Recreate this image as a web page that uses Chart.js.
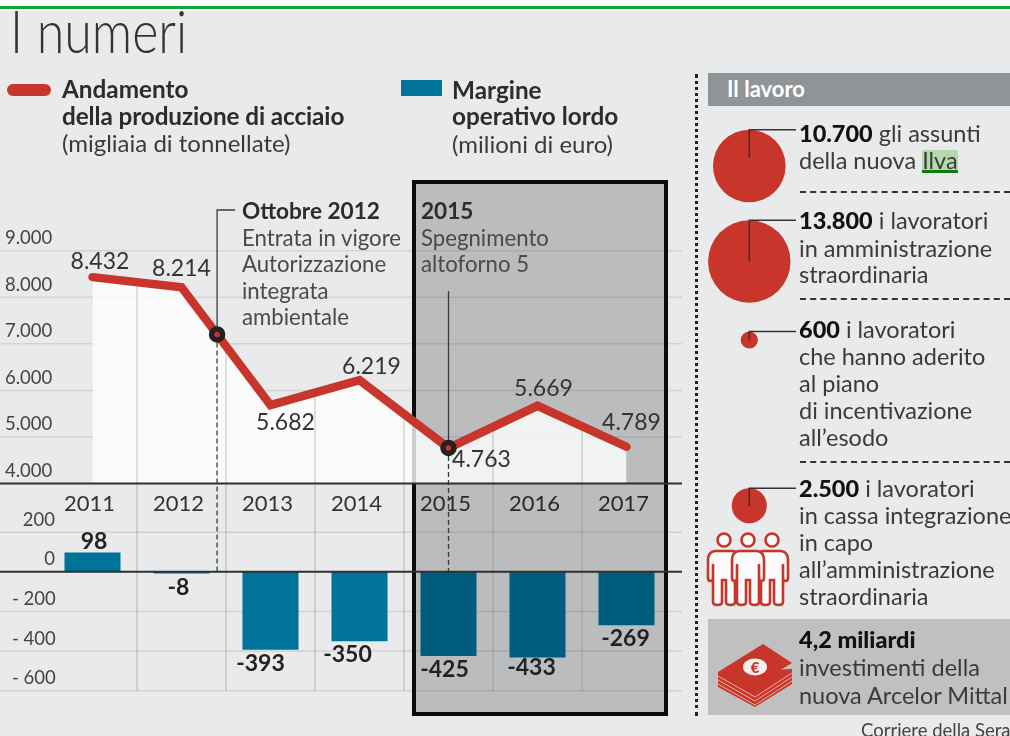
<!DOCTYPE html>
<html lang="it">
<head>
<meta charset="utf-8">
<title>I numeri</title>
<script src="https://cdn.jsdelivr.net/npm/chart.js@4/dist/chart.umd.min.js"></script>
<style>
  html, body { margin: 0; padding: 0; }
  body { width: 1010px; height: 736px; overflow: hidden; position: relative; background: #e9eaec;
         font-family: Lato, sans-serif; color: #3a3a3a; }
  canvas { position: absolute; left: 0; top: 0; }
  .t { position: absolute; white-space: nowrap; line-height: 28px; font-size: 23.5px; }
  .n { font-size: 22.2px; color: #4a4a4a; }
  .b { font-weight: 700; color: #2c2c2c; }
  .l { font-size: 24.3px; }
  .p { font-size: 24px; }
  .x { font-weight: 900; color: #111; }
  .strip { position: absolute; left: 0; top: 0; width: 1010px; height: 11px; background: #fff; }
  .green { position: absolute; left: 0; top: 6px; width: 1010px; height: 3px; background: #10a53a; }
  .title { left: 10px; top: -4px; font-size: 59px; line-height: 70px; font-weight: 300; transform: scaleX(.85); transform-origin: left; color: #333; }
  .dots { position: absolute; left: 695px; top: 74px; height: 642px; border-left: 3px dotted #222; }
  .head { position: absolute; left: 708px; top: 73px; width: 302px; height: 33px; background: #8f9497; }
  .foot { position: absolute; left: 708px; top: 619px; width: 302px; height: 96px; background: #c0c0c0; }
  .dash { position: absolute; left: 800px; width: 210px; border-top: 2px dashed #333; }
  .ilva { background: #b5d9ae; border-bottom: 3px solid #0a7d0a; line-height: 20px; display: inline-block; }
</style>
</head>
<body>
<div class="strip"></div><div class="green"></div>
<canvas id="chart" width="1010" height="736"></canvas>
<canvas id="workersChart" width="1010" height="736"></canvas>

<div class="t title">I numeri</div>
<svg style="position:absolute;left:0;top:78px" width="460" height="24">
  <rect x="7" y="6" width="44" height="12" rx="6" fill="#c8352a"/>
  <rect x="401" y="2" width="41" height="16" fill="#00739b"/>
</svg>
<div class="t b l" style="left:62px;top:75px">Andamento</div>
<div class="t b l" style="left:62px;top:102px;letter-spacing:-.1px">della produzione di acciaio</div>
<div class="t p" style="left:62px;top:129px">(migliaia di tonnellate)</div>
<div class="t b l" style="left:452px;top:76px">Margine</div>
<div class="t b l" style="left:452px;top:102px">operativo lordo</div>
<div class="t p" style="left:452px;top:130px">(milioni di euro)</div>

<div class="t b" style="left:242px;top:197px;font-size:22.6px">Ottobre 2012</div>
<div class="t n" style="left:242px;top:224px">Entrata in vigore</div>
<div class="t n" style="left:242px;top:250px">Autorizzazione</div>
<div class="t n" style="left:242px;top:277px">integrata</div>
<div class="t n" style="left:242px;top:303px">ambientale</div>
<div class="t b" style="left:421px;top:197px;font-size:22.6px">2015</div>
<div class="t n" style="left:421px;top:224px">Spegnimento</div>
<div class="t n" style="left:421px;top:250px">altoforno 5</div>

<div class="dots"></div>
<div class="head"></div>
<div class="t" style="left:727px;top:75px;color:#fff;font-weight:700;font-size:22px">Il lavoro</div>
<div class="t" style="left:799px;top:119px"><span class="x">10.700</span> gli assunti</div>
<div class="t" style="left:799px;top:146px">della nuova <span class="ilva">Ilva</span></div>
<div class="dash" style="top:191px"></div>
<div class="t" style="left:799px;top:206px"><span class="x">13.800</span> i lavoratori</div>
<div class="t" style="left:799px;top:234px">in amministrazione</div>
<div class="t" style="left:799px;top:260px">straordinaria</div>
<div class="dash" style="top:298px"></div>
<div class="t" style="left:799px;top:315px"><span class="x">600</span> i lavoratori</div>
<div class="t" style="left:799px;top:342px">che hanno aderito</div>
<div class="t" style="left:799px;top:369px">al piano</div>
<div class="t" style="left:799px;top:396px">di incentivazione</div>
<div class="t" style="left:799px;top:423px">all’esodo</div>
<div class="dash" style="top:461px"></div>
<div class="t" style="left:799px;top:474px"><span class="x">2.500</span> i lavoratori</div>
<div class="t" style="left:799px;top:501px">in cassa integrazione</div>
<div class="t" style="left:799px;top:528px">in capo</div>
<div class="t" style="left:799px;top:555px">all’amministrazione</div>
<div class="t" style="left:799px;top:582px">straordinaria</div>

<div class="foot"></div>
<div class="t" style="left:799px;top:625px"><span class="x">4,2 miliardi</span></div>
<div class="t" style="left:799px;top:653px">investimenti della</div>
<div class="t" style="left:799px;top:681px">nuova Arcelor Mittal</div>
<div class="t" style="left:861px;top:716px;font-size:18.5px;color:#444">Corriere della Sera</div>

<svg style="position:absolute;left:705px;top:525px" width="95" height="85" stroke="#c8352a" fill="#fbfbfb" stroke-width="2.6">
  <defs>
    <g id="man">
      <circle cx="0" cy="0" r="6.5"/>
      <path d="M-9 11 H9 Q16 12 16 20 V38 Q16 41 13.5 41 Q11 41 11 38 V24 V62 Q11 65 6.5 65 Q2 65 2 62 V40 H-2 V62 Q-2 65 -6.5 65 Q-11 65 -11 62 V24 V38 Q-11 41 -13.5 41 Q-16 41 -16 38 V20 Q-16 12 -9 11 Z"/>
    </g>
  </defs>
  <use href="#man" x="19" y="15"/>
  <use href="#man" x="67" y="15"/>
  <use href="#man" x="43" y="15"/>
</svg>
<svg style="position:absolute;left:710px;top:635px" width="90" height="75">
  <path d="M8 37 L8 52 L45 72 L82 49 L82 34 Z" fill="#c8352a"/>
  <g stroke="#e7b3a6" stroke-width="1" fill="none">
    <path d="M8 41 L45 62 L82 38"/><path d="M8 45 L45 66 L82 42"/><path d="M8 49 L45 70 L82 46"/>
  </g>
  <path d="M53 9 L82 28 L37 55 L8 37 Z" fill="#c8352a"/>
  <ellipse cx="45" cy="32" rx="12" ry="8.5" fill="#f6f1ee"/>
  <text x="45" y="38" font-size="15" font-weight="900" text-anchor="middle" fill="#c8352a">€</text>
</svg>

<script>
const years = ["2011", "2012", "2013", "2014", "2015", "2016", "2017"];
const production = [8432, 8214, 5682, 6219, 4763, 5669, 4789];
const margin = [98, -8, -393, -350, -425, -433, -269];
const productionTicks = [9000, 8000, 7000, 6000, 5000, 4000];
const marginTicks = [200, 0, -200, -400, -600];
const workers = [10700, 13800, 600, 2500];

// scale ranges: the two panels share one chart, stacked on the left
const prodMin = 4000, prodMax = 9000;
const marginMin = -600, marginMax = 446;

// label nudges from the point / bar end, hand placed like in the print
const prodLabelShift = [[7.5, -16], [0, -19], [15, 17], [12, -14], [33, 12], [6, -17], [5, -24]];
const marginLabelShift = [[1.5, -11], [-3, 14], [-10, 14], [-12, 13], [-4, 14], [-6, 10], [-1, 13]];

const red = "#c8352a";
const blue = "#00739b";
const box = { left: 414, top: 182, right: 666, bottom: 714 };
const octoberFraction = 0.4; // distance between the 2012 and 2013 points

function dotted(v) {
  return String(v).replace(/\B(?=(\d{3})+$)/g, ".");
}

// margin ticks are left anchored, figure spaces push the short ones right
function marginTickLabel(v) {
  if (v < 0) return String(v).replace("-", "- ");
  return (v === 0 ? "\u2007\u2007\u2007" : "\u2007") + v;
}

function lineYAt(chart, px) {
  const pts = chart.getDatasetMeta(1).data;
  for (let i = 1; i < pts.length; i++) {
    if (px <= pts[i].x) {
      return pts[i - 1].y + (pts[i].y - pts[i - 1].y) * (px - pts[i - 1].x) / (pts[i].x - pts[i - 1].x);
    }
  }
  return pts[pts.length - 1].y;
}

function hline(ctx, y, color, width) {
  ctx.strokeStyle = color;
  ctx.lineWidth = width;
  ctx.beginPath();
  ctx.moveTo(0, y);
  ctx.lineTo(682, y);
  ctx.stroke();
}

function ring(ctx, x, y) {
  ctx.beginPath();
  ctx.arc(x, y, 5.5, 0, Math.PI * 2);
  ctx.fillStyle = red;
  ctx.fill();
  ctx.strokeStyle = "#222";
  ctx.lineWidth = 5.5;
  ctx.stroke();
}

const printLook = {
  id: "printLook",
  beforeDraw(chart) {
    // opaque paper, the multiply below needs something to darken
    chart.ctx.fillStyle = "#e9eaec";
    chart.ctx.fillRect(0, 11, 1010, 725);
  },
  beforeDatasetsDraw(chart) {
    const ctx = chart.ctx;
    ctx.save();
    productionTicks.forEach(v => hline(ctx, chart.scales.y.getPixelForValue(v), "#d2d4d6", 1.5));
    marginTicks.forEach(v => hline(ctx, chart.scales.y1.getPixelForValue(v), "#cfd1d3", 1.5));
    ctx.restore();
  },
  afterDatasetDraw(chart, args) {
    const ctx = chart.ctx;
    if (args.index === 0) {
      // the 2015 box darkens what is under it, bars included
      ctx.save();
      ctx.globalCompositeOperation = "multiply";
      ctx.fillStyle = "#cdcdcd";
      ctx.fillRect(box.left, box.top, box.right - box.left, box.bottom - box.top);
      ctx.restore();
      ctx.save();
      ctx.strokeStyle = "#0c0c0c";
      ctx.lineWidth = 4;
      ctx.strokeRect(box.left, box.top, box.right - box.left, box.bottom - box.top);
      ctx.restore();
    }
    if (args.index === 2) {
      // vertical grid only under the line and in the lower panel
      const x = chart.scales.x;
      const bottom = chart.scales.y1.getPixelForValue(marginMin);
      ctx.save();
      ctx.strokeStyle = "rgba(120,122,125,.45)";
      ctx.lineWidth = 1;
      for (let i = 0; i < years.length - 1; i++) {
        const px = (x.getPixelForValue(i) + x.getPixelForValue(i + 1)) / 2;
        ctx.beginPath();
        ctx.moveTo(px, lineYAt(chart, px));
        ctx.lineTo(px, bottom);
        ctx.stroke();
      }
      ctx.restore();
    }
  },
  afterDatasetsDraw(chart) {
    const ctx = chart.ctx;
    const { x, y, y1 } = chart.scales;
    const zero = y1.getPixelForValue(0);
    const oct = x.getPixelForValue(1) + (x.getPixelForValue(2) - x.getPixelForValue(1)) * octoberFraction;
    const octY = lineYAt(chart, oct);
    const spegn = x.getPixelForValue(4);
    const spegnY = y.getPixelForValue(production[4]);

    ctx.save();
    ctx.strokeStyle = "#3a3a3a";
    ctx.lineWidth = 1.3;
    ctx.beginPath();
    ctx.moveTo(235, 210);
    ctx.lineTo(oct, 210);
    ctx.lineTo(oct, octY);
    ctx.moveTo(spegn, 291);
    ctx.lineTo(spegn, spegnY);
    ctx.stroke();
    ctx.setLineDash([5, 3]);
    ctx.beginPath();
    ctx.moveTo(oct, octY);
    ctx.lineTo(oct, zero);
    ctx.moveTo(spegn, spegnY);
    ctx.lineTo(spegn, zero);
    ctx.stroke();
    ctx.setLineDash([]);

    hline(ctx, y.getPixelForValue(prodMin), "#2e3033", 2);
    hline(ctx, zero, "#2e3033", 2);
    ring(ctx, oct, octY);
    ring(ctx, spegn, spegnY);

    ctx.textAlign = "center";
    ctx.textBaseline = "middle";
    ctx.fillStyle = "#333";
    ctx.font = "23px Lato";
    chart.getDatasetMeta(1).data.forEach((pt, i) => {
      ctx.fillText(dotted(production[i]), pt.x + prodLabelShift[i][0], pt.y + prodLabelShift[i][1]);
    });
    ctx.fillStyle = "#222";
    ctx.font = "700 23px Lato";
    chart.getDatasetMeta(0).data.forEach((bar, i) => {
      ctx.fillText(margin[i], bar.x + marginLabelShift[i][0], bar.y + marginLabelShift[i][1]);
    });
    ctx.restore();
  }
};

new Chart(document.getElementById("chart"), {
  type: "bar",
  data: {
    labels: years,
    datasets: [
      { type: "bar", data: margin, yAxisID: "y1", backgroundColor: blue, order: 3,
        categoryPercentage: 1, barPercentage: 56 / 89 },
      { type: "line", data: production, yAxisID: "y", borderColor: red, borderWidth: 8.5, pointRadius: 0,
        borderCapStyle: "round", borderJoinStyle: "miter", tension: 0, fill: false, order: 1 },
      { type: "line", data: production, yAxisID: "y", borderWidth: 0, pointRadius: 0, tension: 0,
        fill: "start", backgroundColor: "rgba(255,255,255,.8)", order: 2 }
    ]
  },
  options: {
    responsive: false,
    animation: false,
    layout: { padding: { top: 250.7, bottom: 45.3, right: 339, left: 0 } },
    plugins: { legend: { display: false }, tooltip: { enabled: false } },
    scales: {
      x: {
        position: { y: prodMin },
        offset: true,
        grid: { display: false },
        border: { display: false },
        ticks: { color: "#333", font: { family: "Lato", size: 22 }, padding: -1, labelOffset: -3,
          maxRotation: 0, autoSkip: false }
      },
      y: {
        stack: "left", stackWeight: 232.8, weight: 1,
        min: prodMin, max: prodMax,
        afterFit(scale) { scale.width = 48; },
        afterBuildTicks(scale) { scale.ticks = productionTicks.map(v => ({ value: v })); },
        grid: { display: false, drawTicks: false },
        border: { display: false },
        ticks: { color: "#444", mirror: true, padding: -43, autoSkip: false,
          font: { family: "Lato", size: 18.5, lineHeight: 1.35 },
          callback: v => [dotted(v), ""] }
      },
      y1: {
        stack: "left", stackWeight: 207.2, weight: 0,
        min: marginMin, max: marginMax,
        afterFit(scale) { scale.width = 48; },
        afterBuildTicks(scale) { scale.ticks = marginTicks.map(v => ({ value: v })); },
        grid: { display: false, drawTicks: false },
        border: { display: false },
        ticks: { color: "#444", mirror: true, padding: -36, autoSkip: false,
          font: { family: "Lato", size: 18.5, lineHeight: 1.35 },
          callback: v => [marginTickLabel(v), ""] }
      }
    }
  },
  plugins: [printLook]
});

// right panel: circles sized by head count
const circleK = 0.351;
const circleRow = [166, 261.5, 340, 505.7];
const leaderDrop = [28, 41, 9, 18];
const leaderEnd = 796;

const leaders = {
  id: "leaders",
  afterDatasetsDraw(chart) {
    const ctx = chart.ctx;
    ctx.save();
    ctx.strokeStyle = "#3a3030";
    ctx.lineWidth = 1.5;
    chart.getDatasetMeta(0).data.forEach((el, i) => {
      const top = el.y - Math.sqrt(workers[i]) * circleK;
      ctx.beginPath();
      ctx.moveTo(leaderEnd, top);
      ctx.lineTo(el.x, top);
      ctx.lineTo(el.x, top + leaderDrop[i]);
      ctx.stroke();
    });
    ctx.restore();
  }
};

new Chart(document.getElementById("workersChart"), {
  type: "bubble",
  data: {
    datasets: [{
      data: workers.map((w, i) => ({ x: 749.3, y: circleRow[i], v: w })),
      backgroundColor: red,
      borderWidth: 0,
      radius: c => Math.sqrt(c.raw.v) * circleK
    }]
  },
  options: {
    responsive: false,
    animation: false,
    layout: { padding: 0, autoPadding: false },
    clip: false,
    plugins: { legend: { display: false }, tooltip: { enabled: false } },
    scales: {
      x: { display: false, min: 0, max: 1010 },
      y: { display: false, min: 0, max: 736, reverse: true }
    }
  },
  plugins: [leaders]
});
</script>
</body>
</html>
